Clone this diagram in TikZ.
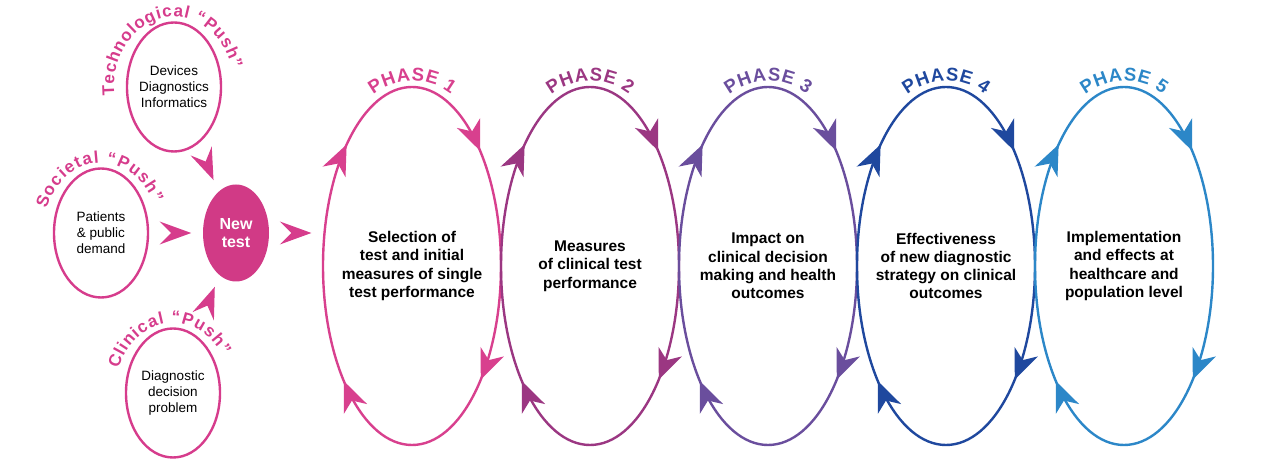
\documentclass[tikz,border=0pt]{standalone}
\usepackage{fontspec}
\setmainfont{Liberation Sans}
\usetikzlibrary{arrows.meta,shapes.geometric,decorations.markings,decorations.text,calc}

\definecolor{pushpink}{HTML}{D63C8C}
\definecolor{newpink}{HTML}{D13A86}
\definecolor{phaseA}{HTML}{D8408E}
\definecolor{phaseB}{HTML}{9B3782}
\definecolor{phaseC}{HTML}{6A4E9D}
\definecolor{phaseD}{HTML}{1F489E}
\definecolor{phaseE}{HTML}{2C87C8}

\newcommand\phasefont{\fontsize{18.5}{18.5}\selectfont\bfseries}
\newcommand\pushfont{\fontsize{17}{17}\selectfont\bfseries}

\tikzset{
  push/.style={draw=pushpink, line width=2.4pt, ellipse, minimum width=94pt, minimum height=129pt, inner sep=-4pt, align=center, font=\fontsize{13.5}{16}\selectfont},
  push tip/.style={draw opacity=0, -{Stealth[length=33pt,width=24pt,inset=12pt,fill=pushpink]}},
  phase text/.style={align=center, font=\fontsize{15.5}{18.3}\selectfont\bfseries},
  ring/.style={color=#1, line width=2.4pt, postaction={decorate}, decoration={markings,
    mark=at position 0.136 with {\arrowreversed{Stealth[length=30pt,width=25pt,inset=9pt]}},
    mark=at position 0.356 with {\arrowreversed{Stealth[length=30pt,width=25pt,inset=9pt]}},
    mark=at position 0.636 with {\arrowreversed{Stealth[length=30pt,width=25pt,inset=9pt]}},
    mark=at position 0.866 with {\arrowreversed{Stealth[length=30pt,width=25pt,inset=9pt]}}}}
}

\begin{document}
\begin{tikzpicture}[x=1pt,y=1pt]
\useasboundingbox (0,0) rectangle (1280,473);

\node[push] (tech) at (174,386) {Devices\\Diagnostics\\Informatics};
\node[push] (soc) at (101,240) {Patients\\\& public\\demand};
\node[push] (clin) at (173,80) {Diagnostic\\decision\\problem};
\node[ellipse, fill=newpink, minimum width=66pt, minimum height=97pt, inner sep=0pt, align=center, text=white, font=\fontsize{16}{18}\selectfont\bfseries] (new) at (236,240) {New\\test};

\path[decorate, decoration={text along path, text align=fit to path, text color=pushpink, text={|\pushfont|Technological “Push”}}] (tech) ++(187:60 and 70) arc[start angle=187, end angle=15, x radius=60, y radius=70];
\path[decorate, decoration={text along path, text align=fit to path, text color=pushpink, text={|\pushfont|Societal “Push”}}] (soc) ++(160:58 and 70) arc[start angle=160, end angle=25, x radius=58, y radius=70];
\path[decorate, decoration={text along path, text align=fit to path, text color=pushpink, text={|\pushfont|Clinical “Push”}}] (clin) ++(160:58 and 70) arc[start angle=160, end angle=32, x radius=58, y radius=70];

\foreach \i/\x/\col/\body in {
  1/412/phaseA/{Selection of\\test and initial\\measures of single\\test performance},
  2/590/phaseB/{Measures\\of clinical test\\performance},
  3/768/phaseC/{Impact on\\clinical decision\\making and health\\outcomes},
  4/946/phaseD/{Effectiveness\\of new diagnostic\\strategy on clinical\\outcomes},
  5/1124/phaseE/{Implementation\\and effects at\\healthcare and\\population level}}{
  \node[phase text] (ph\i) at (\x,207) {\body};
  \draw[ring=\col] (ph\i) ellipse [x radius=89, y radius=179];
  \path[decorate, decoration={text along path, text align=fit to path, text color=\col, text/.expanded={|\noexpand\phasefont|PHASE \i}}] (ph\i) ++(0,122) ++(128:63) arc[start angle=128, end angle=52, radius=63];
}

\path (ph1) ++(-89,0) coordinate (ph1w);

\draw[push tip, shorten >=12pt] (tech) -- (new);
\draw[push tip, shorten >=11pt] (soc) -- (new);
\draw[push tip, shorten >=12pt] (clin) -- (new);
\draw[push tip, shorten >=11pt] (new) -- (new -| ph1w);

\end{tikzpicture}
\end{document}
